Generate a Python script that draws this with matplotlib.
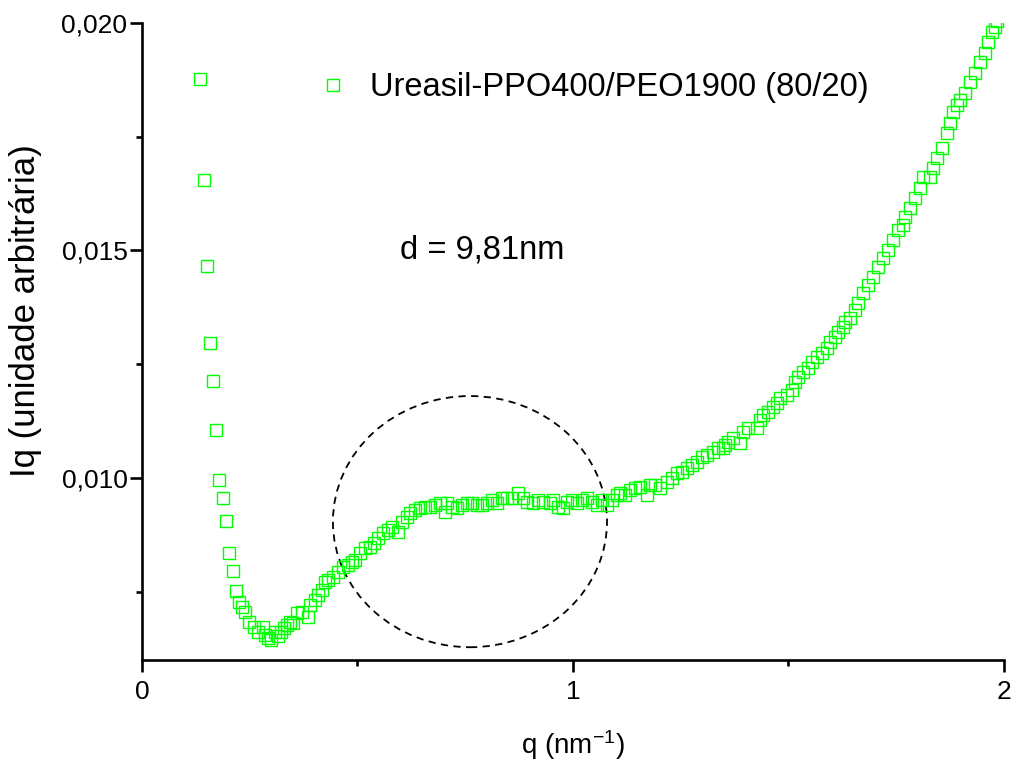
import matplotlib
matplotlib.use("Agg")
import matplotlib.pyplot as plt
from matplotlib.patches import Ellipse
from matplotlib.ticker import MultipleLocator, FuncFormatter

plt.rcParams['font.family'] = ['Liberation Sans', 'DejaVu Sans']
plt.rcParams['mathtext.default'] = 'regular'

# SAXS curve, q in nm^-1 and scattered intensity (arbitrary units)
q = [
    0.1346, 0.1439, 0.1508, 0.1578, 0.1647, 0.1717, 0.1787, 0.1879, 0.1949, 0.2019,
    0.2111, 0.2181, 0.2251, 0.2320, 0.2390, 0.2483, 0.2599, 0.2691, 0.2807, 0.2854,
    0.2923, 0.2993, 0.3086, 0.3155, 0.3225, 0.3295, 0.3364, 0.3434, 0.3503, 0.3596,
    0.3712, 0.3852, 0.3898, 0.4014, 0.4084, 0.4176, 0.4246, 0.4316, 0.4432, 0.4548,
    0.4664, 0.4780, 0.4872, 0.4942, 0.5058, 0.5174, 0.5290, 0.5383, 0.5476, 0.5592,
    0.5708, 0.5800, 0.5940, 0.6032, 0.6148, 0.6218, 0.6334, 0.6450, 0.6566, 0.6682,
    0.6798, 0.6914, 0.7030, 0.7077, 0.7193, 0.7309, 0.7425, 0.7541, 0.7657, 0.7773,
    0.7889, 0.8005, 0.8121, 0.8237, 0.8353, 0.8469, 0.8585, 0.8724, 0.8840, 0.8933,
    0.9072, 0.9188, 0.9304, 0.9466, 0.9536, 0.9652, 0.9768, 0.9861, 0.9977, 1.0093,
    1.0209, 1.0325, 1.0441, 1.0557, 1.0673, 1.0789, 1.0905, 1.1021, 1.1090, 1.1206,
    1.1323, 1.1439, 1.1555, 1.1717, 1.1787, 1.1903, 1.2019, 1.2181, 1.2297, 1.2413,
    1.2529, 1.2645, 1.2761, 1.2877, 1.2993, 1.3109, 1.3248, 1.3364, 1.3480, 1.3527,
    1.3596, 1.3712, 1.3875, 1.3944, 1.4060, 1.4269, 1.4339, 1.4408, 1.4524, 1.4640,
    1.4733, 1.4803, 1.4965, 1.5081, 1.5151, 1.5220, 1.5336, 1.5452, 1.5545, 1.5661,
    1.5777, 1.5893, 1.5963, 1.6079, 1.6148, 1.6265, 1.6311, 1.6427, 1.6543, 1.6613,
    1.6729, 1.6845, 1.6961, 1.7077, 1.7193, 1.7309, 1.7425, 1.7541, 1.7657, 1.7703,
    1.7819, 1.7935, 1.8051, 1.8121, 1.8283, 1.8353, 1.8445, 1.8561, 1.8677, 1.8747,
    1.8817, 1.8910, 1.8979, 1.9095, 1.9211, 1.9327, 1.9443, 1.9559, 1.9629, 1.9722,
    1.9791, 1.9840, 1.9880,
]
iq = [
    0.01877, 0.01655, 0.01466, 0.01297, 0.01213, 0.01105, 0.00996, 0.00956, 0.00905, 0.00835,
    0.00796, 0.00752, 0.00727, 0.00716, 0.00705, 0.00683, 0.00672, 0.00661, 0.00672, 0.00655,
    0.00648, 0.00644, 0.00661, 0.00653, 0.00661, 0.00670, 0.00677, 0.00683, 0.00681, 0.00703,
    0.00705, 0.00694, 0.00721, 0.00732, 0.00743, 0.00754, 0.00771, 0.00776, 0.00782, 0.00793,
    0.00804, 0.00809, 0.00815, 0.00820, 0.00835, 0.00846, 0.00848, 0.00857, 0.00868, 0.00879,
    0.00886, 0.00892, 0.00881, 0.00903, 0.00914, 0.00923, 0.00930, 0.00934, 0.00936, 0.00936,
    0.00941, 0.00945, 0.00925, 0.00945, 0.00936, 0.00934, 0.00941, 0.00945, 0.00945, 0.00941,
    0.00941, 0.00945, 0.00952, 0.00945, 0.00956, 0.00956, 0.00956, 0.00967, 0.00956, 0.00947,
    0.00945, 0.00952, 0.00947, 0.00945, 0.00952, 0.00936, 0.00934, 0.00947, 0.00952, 0.00945,
    0.00952, 0.00956, 0.00947, 0.00941, 0.00952, 0.00941, 0.00952, 0.00963, 0.00967, 0.00963,
    0.00974, 0.00978, 0.00980, 0.00963, 0.00985, 0.00985, 0.00978, 0.00991, 0.01000, 0.01011,
    0.01013, 0.01022, 0.01029, 0.01035, 0.01046, 0.01051, 0.01057, 0.01066, 0.01066, 0.01073,
    0.01079, 0.01088, 0.01077, 0.01101, 0.01110, 0.01110, 0.01127, 0.01138, 0.01145, 0.01156,
    0.01165, 0.01176, 0.01182, 0.01193, 0.01211, 0.01222, 0.01233, 0.01242, 0.01255, 0.01266,
    0.01275, 0.01286, 0.01299, 0.01310, 0.01321, 0.01332, 0.01343, 0.01352, 0.01369, 0.01385,
    0.01407, 0.01424, 0.01442, 0.01464, 0.01484, 0.01501, 0.01523, 0.01545, 0.01556, 0.01574,
    0.01593, 0.01615, 0.01637, 0.01662, 0.01662, 0.01681, 0.01703, 0.01725, 0.01758, 0.01780,
    0.01804, 0.01820, 0.01831, 0.01846, 0.01870, 0.01890, 0.01914, 0.01934, 0.01958, 0.01980,
    0.01991, 0.02005, 0.02020,
]

series_label = "Ureasil-PPO400/PEO1900 (80/20)"
d_text = "d = 9,81nm"

# correlation peak region highlighted by the dashed circle
peak_center = (0.761, 0.00904)
peak_width = 0.636
peak_height = 0.00552

fig = plt.figure(figsize=(10.12, 7.65), dpi=100)
ax = fig.add_axes([0.1403, 0.1373, 0.8518, 0.8327])

ax.plot(q, iq, linestyle='None', marker='s', markersize=8.5, markerfacecolor='none',
        markeredgecolor='#00ff00', markeredgewidth=1.0, label=series_label)

ax.add_patch(Ellipse(peak_center, peak_width, peak_height, fill=False,
                     edgecolor='black', linewidth=1.3, linestyle=(0, (4, 3))))

ax.text(0.599, 0.01501, d_text, fontsize=23.5, ha='left', va='center')

ax.set_xlim(0, 2)
ax.set_ylim(0.006, 0.020)

ax.xaxis.set_major_locator(MultipleLocator(1))
ax.xaxis.set_minor_locator(MultipleLocator(0.5))
ax.yaxis.set_major_locator(MultipleLocator(0.005))
ax.yaxis.set_minor_locator(MultipleLocator(0.0025))
ax.xaxis.set_major_formatter(FuncFormatter(lambda v, p: f"{v:.0f}"))
ax.yaxis.set_major_formatter(FuncFormatter(lambda v, p: f"{v:.3f}".replace('.', ',')))

for side in ['top', 'right']:
    ax.spines[side].set_visible(False)
for side in ['left', 'bottom']:
    ax.spines[side].set_linewidth(1.9)

ax.tick_params(which='major', direction='out', length=8.5, width=1.9, labelsize=19)
ax.tick_params(which='minor', direction='out', length=4.3, width=1.9)
ax.tick_params(axis='x', which='major', pad=6)
ax.tick_params(axis='y', which='major', pad=2)

ax.set_xlabel("q (nm$^{-1}$)", fontsize=20, labelpad=17)
ax.set_ylabel("Iq (unidade arbitrária)", fontsize=25)
ax.yaxis.set_label_coords(-0.116, 0.548)

ax.legend(loc='center left', bbox_to_anchor=(0.2065, 0.898), frameon=False,
          fontsize=23.5, numpoints=1, handlelength=0.8, handletextpad=0.73,
          borderpad=0, borderaxespad=0)

fig.savefig("out.png", dpi=100)
